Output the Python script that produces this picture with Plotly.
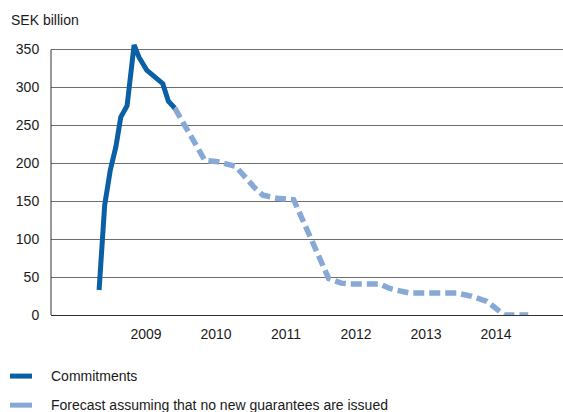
import plotly.graph_objects as go

# Commitments (decimal year, SEK billion)
commit_t = [2008.83, 2008.91, 2008.99, 2009.07, 2009.14, 2009.23, 2009.33, 2009.40,
            2009.51, 2009.70, 2009.74, 2009.82, 2009.91]
commit_v = [33, 145, 191, 222, 261, 276, 356, 340, 323, 308, 305, 282, 273]

# Forecast assuming no new guarantees
fc_t = [2009.91, 2010.34, 2010.53, 2010.74, 2010.78, 2011.06, 2011.17, 2011.37,
        2011.59, 2011.61, 2012.11, 2012.29, 2012.40, 2012.84, 2012.98, 2013.26,
        2013.94, 2014.14, 2014.37, 2014.59, 2014.62, 2014.96]
fc_v = [273, 204, 202, 198, 196, 167, 158, 154, 153, 152, 48, 42, 41, 41, 35, 29,
        29, 25, 18, 1, 0, 0]

year_ticks = [2009.5, 2010.5, 2011.5, 2012.5, 2013.5, 2014.5]
year_labels = ["2009", "2010", "2011", "2012", "2013", "2014"]
y_ticks = [0, 50, 100, 150, 200, 250, 300, 350]

series_names = ["Commitments", "Forecast assuming that no new guarantees are issued"]

dark = "#0B5FA5"
light = "#88A9D5"
grid = "#6E6E6E"
font = "Liberation Sans, Arial, sans-serif"
text_col = "#1a1a1a"

fig = go.Figure()
fig.add_trace(go.Scatter(x=fc_t, y=fc_v, mode="lines", name=series_names[1],
                         showlegend=False,
                         line=dict(color=light, width=5.5, dash="11px,5px")))
fig.add_trace(go.Scatter(x=commit_t, y=commit_v, mode="lines", name=series_names[0],
                         showlegend=False, line=dict(color=dark, width=5)))

# Legend drawn below the chart (paper coordinates)
leg_y = [-0.2238, -0.3302]
leg_cols = [dark, light]
shapes = [dict(type="line", xref="paper", yref="y", x0=0, x1=0, y0=0, y1=350,
               line=dict(color="#333", width=1))]
annotations = [dict(text="SEK billion", xref="paper", yref="paper",
                    x=-0.082, y=1.0, xanchor="left", yanchor="bottom", yshift=12,
                    showarrow=False, font=dict(size=14, color=text_col))]
for name, yy, col in zip(series_names, leg_y, leg_cols):
    shapes.append(dict(type="line", xref="paper", yref="paper", x0=-0.0801, x1=-0.0371,
                       y0=yy, y1=yy, line=dict(color=col, width=5)))
    annotations.append(dict(text=name, xref="paper", yref="paper", x=-0.0039, y=yy,
                            xanchor="left", yanchor="middle", showarrow=False,
                            font=dict(size=14, color=text_col)))

fig.update_layout(
    width=563, height=412,
    margin=dict(l=51, r=0, t=42.4, b=97),
    paper_bgcolor="white", plot_bgcolor="white",
    font=dict(family=font, size=14, color=text_col),
    showlegend=False,
    xaxis=dict(range=[2008.143, 2015.457], tickvals=year_ticks, ticktext=year_labels,
               showgrid=False, zeroline=False, showline=True, linecolor="#333",
               linewidth=1, ticks="outside", ticklen=6, tickcolor="rgba(0,0,0,0)",
               tickfont=dict(size=14)),
    yaxis=dict(range=[0, 360], tickvals=y_ticks, showgrid=True, gridcolor=grid,
               gridwidth=1, zeroline=False, showline=False, ticks="outside",
               ticklen=8, tickcolor="rgba(0,0,0,0)", tickfont=dict(size=14)),
    annotations=annotations,
    shapes=shapes,
)

fig.write_html("out.html")
